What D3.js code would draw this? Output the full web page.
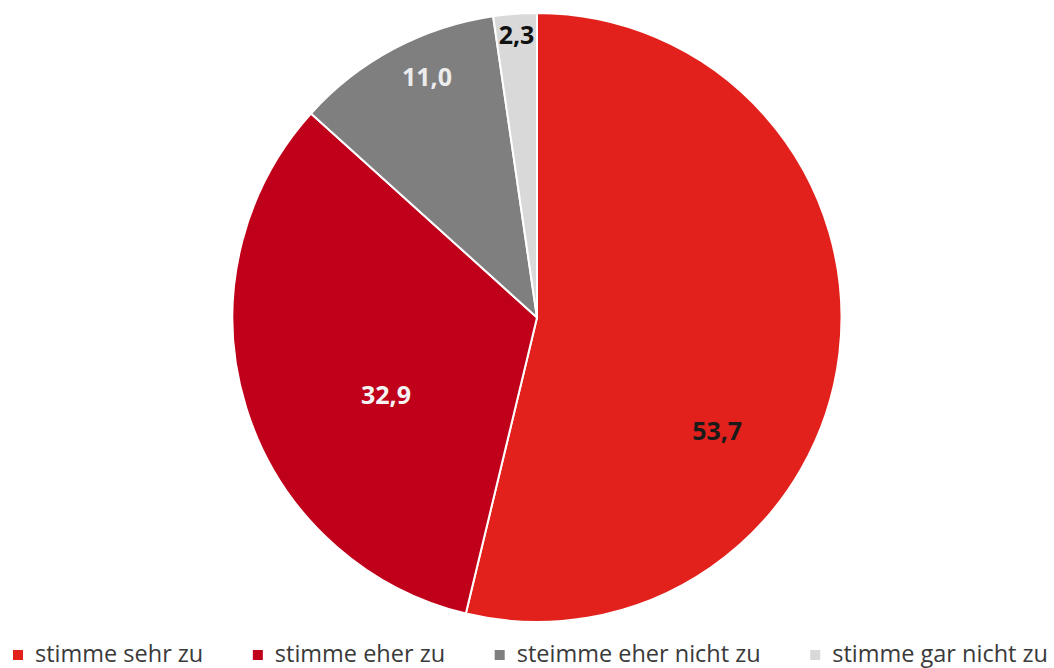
<!DOCTYPE html>
<html>
<head>
<meta charset="utf-8">
<script src="https://cdn.jsdelivr.net/npm/d3@7"></script>
<style>
  html, body { margin: 0; padding: 0; background: #fff; }
  svg { display: block; }
</style>
</head>
<body>
<svg id="chart" width="1054" height="668"></svg>
<script>
// Daten
const categories = ['stimme sehr zu', 'stimme eher zu', 'steimme eher nicht zu', 'stimme gar nicht zu'];
const values = [53.7, 32.9, 11.0, 2.3];
const labels = ['53,7', '32,9', '11,0', '2,3'];

// Darstellung
const colors = ['#e3211c', '#c0001a', '#7f7f7f', '#d9d9d9'];
const labelColors = ['#1a1a1a', '#f4f4f4', '#ececec', '#111111'];
// Beschriftung: Anteil innerhalb des Segmentwinkels, Anteil am Radius
const labelPlace = [[0.632, 0.70], [0.417, 0.557], [0.59, 0.87], [0.5, 0.93]];

const width = 1054, height = 668;
const cx = 537, cy = 317.5, radius = 304.5;

const svg = d3.select('#chart');

const pie = d3.pie().sort(null).value(d => d.value);
const arc = d3.arc().innerRadius(0).outerRadius(radius);

const data = categories.map((c, i) => ({ name: c, value: values[i], label: labels[i], i }));
const arcs = pie(data);

const g = svg.append('g').attr('transform', `translate(${cx},${cy})`);

g.selectAll('path')
    .data(arcs)
    .enter()
    .append('path')
    .attr('d', arc)
    .attr('fill', d => colors[d.data.i])
    .attr('stroke', '#fff')
    .attr('stroke-width', 2)
    .attr('stroke-linejoin', 'round');

g.selectAll('text.lbl')
    .data(arcs)
    .enter()
    .append('text')
    .attr('class', 'lbl')
    .attr('x', d => {
        const [t, r] = labelPlace[d.data.i];
        const a = d.startAngle + (d.endAngle - d.startAngle) * t;
        return Math.sin(a) * radius * r;
    })
    .attr('y', d => {
        const [t, r] = labelPlace[d.data.i];
        const a = d.startAngle + (d.endAngle - d.startAngle) * t;
        return -Math.cos(a) * radius * r;
    })
    .attr('dy', '0.36em')
    .attr('text-anchor', 'middle')
    .attr('font-family', '"Open Sans", sans-serif')
    .attr('font-weight', 700)
    .attr('font-size', 25)
    .attr('fill', d => labelColors[d.data.i])
    .text(d => d.data.label);

// Legende
const legend = svg.append('g');
const legendLeft = 13, legendRight = 1048, baseline = 662;
const sq = 10, sqGap = 12;

const items = legend.selectAll('g')
    .data(data)
    .enter()
    .append('g');

items.append('rect')
    .attr('width', sq)
    .attr('height', sq)
    .attr('y', baseline - 12)
    .attr('fill', d => colors[d.i]);

items.append('text')
    .attr('x', sq + sqGap)
    .attr('y', baseline)
    .attr('font-family', '"Open Sans", sans-serif')
    .attr('font-size', 23.5)
    .attr('fill', '#3a3a3a')
    .text(d => d.name);

// Abstaende so verteilen, dass die Legende die volle Breite nutzt
const itemWidths = [];
items.each(function () {
    itemWidths.push(sq + sqGap + d3.select(this).select('text').node().getComputedTextLength());
});
const totalW = d3.sum(itemWidths);
const gap = (legendRight - legendLeft - totalW) / (itemWidths.length - 1);
let xPos = legendLeft;
items.each(function (d, i) {
    d3.select(this).attr('transform', `translate(${xPos},0)`);
    xPos += itemWidths[i] + gap;
});
</script>
</body>
</html>
